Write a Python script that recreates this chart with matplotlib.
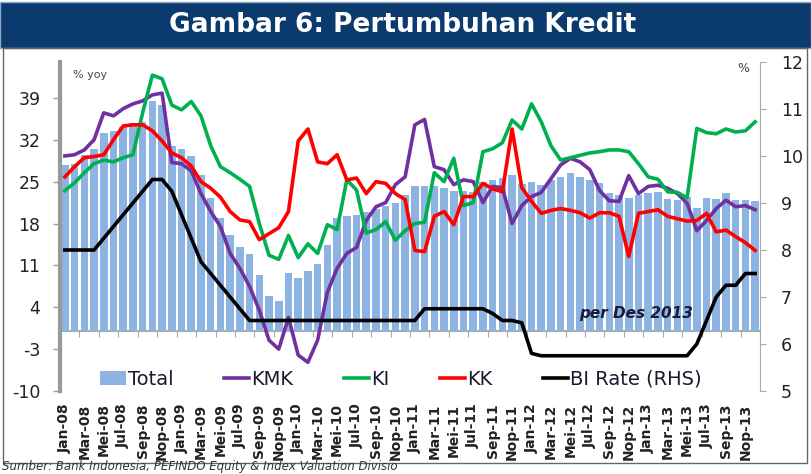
import numpy as np
import matplotlib.pyplot as plt
from matplotlib.patches import Rectangle, Patch
from matplotlib.lines import Line2D

plt.rcParams['axes.unicode_minus'] = False

# monthly data Jan-08 .. Des-13
bulan = ['Jan', 'Feb', 'Mar', 'Apr', 'Mei', 'Jun', 'Jul', 'Agu', 'Sep', 'Okt', 'Nop', 'Des']
tahun = ['08', '09', '10', '11', '12', '13']
periode = [b + '-' + t for t in tahun for b in bulan]

total = [27.8, 28.0, 29.5, 30.5, 33.1, 33.4, 34.2, 34.8, 35.0, 38.4, 37.8, 31.0,
         30.5, 29.3, 26.1, 22.2, 19.0, 16.1, 14.1, 12.9, 9.4, 5.8, 5.1, 9.8,
         8.9, 10.0, 11.3, 14.4, 18.9, 19.3, 19.4, 20.0, 20.5, 21.0, 21.5, 22.8,
         24.2, 24.2, 24.2, 23.9, 23.4, 23.4, 23.2, 25.0, 25.3, 25.6, 26.1, 24.6,
         25.0, 24.4, 25.3, 25.8, 26.4, 25.8, 25.3, 24.8, 23.1, 22.8, 22.2, 22.8,
         23.1, 23.3, 22.1, 21.9, 22.5, 20.6, 22.2, 22.1, 23.1, 21.9, 21.9, 21.7]

kmk = [29.3, 29.5, 30.3, 32.0, 36.5, 36.0, 37.2, 38.0, 38.5, 39.5, 39.8, 28.2,
       28.0, 26.8, 23.0, 20.0, 17.5, 13.0, 10.5, 7.5, 3.5, -1.5, -3.0, 2.3,
       -4.0, -5.2, -1.5, 6.5, 10.5, 13.0, 14.0, 18.5, 20.8, 21.5, 24.5, 25.8,
       34.5, 35.4, 27.5, 27.0, 24.5, 25.3, 25.0, 21.5, 24.2, 24.0, 18.0, 21.0,
       22.5, 23.2, 25.5, 27.8, 28.9, 28.3, 27.0, 23.5, 21.8, 21.7, 26.0, 23.0,
       24.2, 24.4, 23.9, 23.0, 21.4, 16.8, 18.5, 20.5, 21.9, 20.8, 21.0, 20.3]

ki = [23.5, 24.8, 26.5, 28.0, 28.6, 28.3, 29.0, 29.5, 36.5, 42.8, 42.2, 37.8,
      37.0, 38.4, 36.0, 31.0, 27.5, 26.5, 25.4, 24.2, 18.0, 12.7, 12.0, 16.0,
      12.3, 14.6, 13.0, 17.8, 17.0, 25.3, 23.6, 16.4, 17.0, 18.3, 15.2, 16.8,
      18.0, 18.2, 26.5, 25.0, 28.9, 21.0, 21.5, 30.0, 30.5, 31.5, 35.3, 33.8,
      38.0, 35.0, 31.0, 28.6, 29.0, 29.4, 29.8, 30.0, 30.3, 30.3, 30.0, 28.0,
      25.8, 25.4, 23.3, 23.2, 22.3, 33.9, 33.2, 33.0, 33.8, 33.3, 33.5, 35.0]

kk = [25.8, 27.5, 29.0, 29.2, 29.5, 32.0, 34.3, 34.5, 34.5, 33.5, 31.8, 29.8,
      29.0, 27.6, 25.0, 23.9, 22.4, 20.0, 18.6, 18.3, 15.3, 16.3, 17.3, 20.0,
      31.8, 33.8, 28.3, 28.0, 29.5, 25.3, 25.6, 23.0, 25.0, 24.7, 23.0, 22.0,
      13.5, 13.3, 19.2, 20.0, 17.8, 22.5, 22.5, 24.7, 23.8, 23.3, 33.8, 24.0,
      21.7, 19.7, 20.2, 20.5, 20.2, 19.8, 18.9, 19.8, 19.8, 19.2, 12.5, 19.7,
      20.0, 20.3, 19.2, 18.8, 18.4, 18.5, 19.7, 16.6, 16.9, 15.8, 14.8, 13.5]

bi_rate = [8.0, 8.0, 8.0, 8.0, 8.25, 8.5, 8.75, 9.0, 9.25, 9.5, 9.5, 9.25,
           8.75, 8.25, 7.75, 7.5, 7.25, 7.0, 6.75, 6.5, 6.5, 6.5, 6.5, 6.5,
           6.5, 6.5, 6.5, 6.5, 6.5, 6.5, 6.5, 6.5, 6.5, 6.5, 6.5, 6.5,
           6.5, 6.75, 6.75, 6.75, 6.75, 6.75, 6.75, 6.75, 6.65, 6.5, 6.5, 6.45,
           5.8, 5.75, 5.75, 5.75, 5.75, 5.75, 5.75, 5.75, 5.75, 5.75, 5.75, 5.75,
           5.75, 5.75, 5.75, 5.75, 5.75, 6.0, 6.5, 7.0, 7.25, 7.25, 7.5, 7.5]

c_total = '#8db3e2'
c_kmk = '#7030a0'
c_ki = '#00b050'
c_kk = '#ff0000'
lw = 2.6

fig = plt.figure(figsize=(8.11, 4.74), dpi=100)
ax = fig.add_axes([60/811, 1-391/474, 700/811, 329/474])

x = np.arange(len(periode))
ax.bar(x, total, width=0.78, color=c_total, zorder=1)
ax.plot(x, kmk, color=c_kmk, lw=lw, solid_joinstyle='round', zorder=3)
ax.plot(x, ki, color=c_ki, lw=lw, solid_joinstyle='round', zorder=3)
ax.plot(x, kk, color=c_kk, lw=lw, solid_joinstyle='round', zorder=3)

ax.set_xlim(-0.5, len(periode) - 0.5)
ax.set_ylim(-10, 45)
ax.set_yticks(range(-10, 40, 7))
ax.set_xticks(x[::2])
ax.set_xticklabels(periode[::2], rotation=90, fontsize=10, fontweight='bold', color='#222222')
ax.tick_params(axis='x', length=0, pad=9)
ax.tick_params(axis='y', length=5, width=1, color='#999999', pad=9, labelsize=12.5, labelcolor='#222222')
for s in ['top', 'right', 'bottom']:
    ax.spines[s].set_visible(False)
ax.spines['left'].set_color('#999999')
ax.spines['left'].set_linewidth(3)

# category axis line at zero
sec = ax.secondary_xaxis(10/55)
sec.set_xticks(np.arange(-0.5, len(periode), 2))
sec.tick_params(length=4, color='#aaaaaa', labelbottom=False)
sec.spines['bottom'].set_color('#aaaaaa')
sec.spines['bottom'].set_linewidth(1.5)

ax2 = ax.twinx()
ax2.plot(x, bi_rate, color='black', lw=lw, solid_joinstyle='round', zorder=4)
ax2.set_ylim(5, 12)
ax2.set_yticks(range(5, 13))
ax2.tick_params(axis='y', length=4, color='#aaaaaa', pad=11, labelsize=12.5, labelcolor='#222222')
for s in ['top', 'left', 'bottom']:
    ax2.spines[s].set_visible(False)
ax2.spines['right'].set_color('#aaaaaa')

handles = [Patch(facecolor=c_total, label='Total'),
           Line2D([], [], color=c_kmk, lw=lw, label='KMK'),
           Line2D([], [], color=c_ki, lw=lw, label='KI'),
           Line2D([], [], color=c_kk, lw=lw, label='KK'),
           Line2D([], [], color='black', lw=lw, label='BI Rate (RHS)')]
leg = ax2.legend(handles=handles, loc='center', bbox_to_anchor=(0.487, 0.035), ncol=5,
                 frameon=False, fontsize=14, handlelength=1.3, handletextpad=0.1,
                 columnspacing=2.6)
for t in leg.get_texts():
    t.set_color('#1a1a2e')

ax.text(0.018, 0.975, '% yoy', transform=ax.transAxes, fontsize=8, color='#444444', va='top')
ax2.text(0.985, 1.0, '%', transform=ax2.transAxes, fontsize=9, color='#444444', va='top', ha='right')
ax2.text(0.905, 0.235, 'per Des 2013', transform=ax2.transAxes, fontsize=11,
         fontweight='bold', fontstyle='italic', color='#1a1a3a', ha='right', va='center')

# title band and frame
fig.patches.append(Rectangle((0, 1-48/474), 1, 46/474, transform=fig.transFigure,
                             facecolor='#0b3a6e', edgecolor='#8fa8c8', lw=1))
fig.patches.append(Rectangle((3/811, 1-463/474), 804/811, 415/474, transform=fig.transFigure,
                             fill=False, edgecolor='#666666', lw=1))
fig.text(0.496, 1-25/474, 'Gambar 6: Pertumbuhan Kredit', ha='center', va='center',
         fontsize=19, fontweight='bold', color='white')
fig.text(2/811, 1/474, 'Sumber: Bank Indonesia, PEFINDO Equity & Index Valuation Divisio',
         fontsize=8.5, fontstyle='italic', color='#333333', va='bottom')

fig.savefig('out.png', dpi=100)
